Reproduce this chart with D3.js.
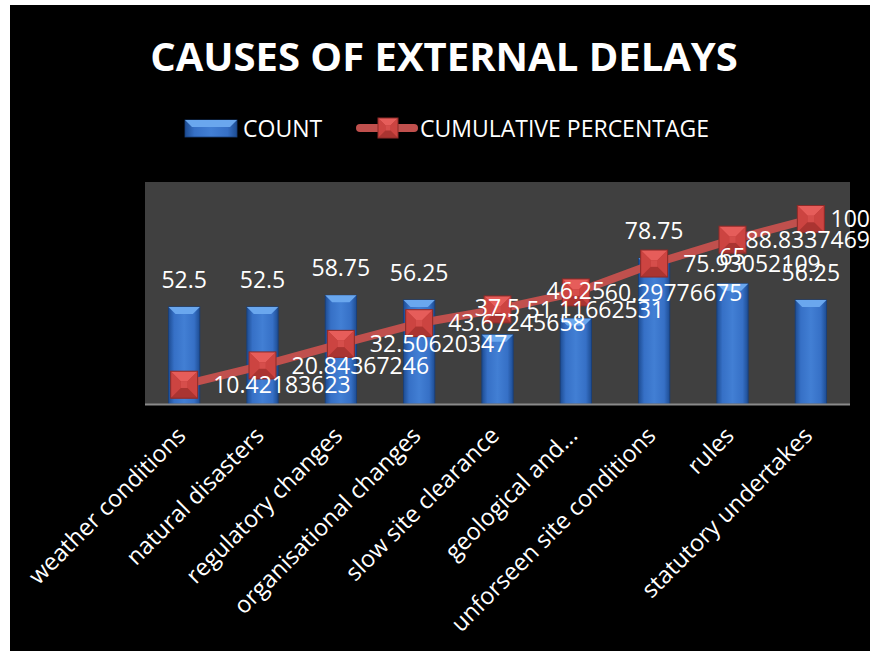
<!DOCTYPE html>
<html>
<head>
<meta charset="utf-8">
<script src="https://cdn.jsdelivr.net/npm/d3@7"></script>
<style>
  body { margin: 0; background: #fff; }
  svg text { font-family: "Open Sans", sans-serif; fill: #fff; }
</style>
</head>
<body>
<svg class="chart"></svg>
<script>
var categories = ["weather conditions", "natural disasters", "regulatory changes", "organisational changes",
                  "slow site clearance", "geological and...", "unforseen site conditions", "rules", "statutory undertakes"];
var counts = [52.5, 52.5, 58.75, 56.25, 37.5, 46.25, 78.75, 65, 56.25];
var cumulative = [10.42183623, 20.84367246, 32.50620347, 43.67245658, 51.11662531, 60.29776675, 75.93052109, 88.8337469, 100];
var legendNames = ["COUNT", "CUMULATIVE PERCENTAGE"];

var width = 870, height = 651;
var plot = {left: 145, right: 850, top: 182, bottom: 404};

var svg = d3.select(".chart").attr("width", width).attr("height", height);

// gradients
var defs = svg.append("defs");
var gb = defs.append("linearGradient").attr("id", "barGrad").attr("x1", 0).attr("x2", 1).attr("y1", 0).attr("y2", 0);
gb.append("stop").attr("offset", "0%").attr("stop-color", "#1d4c92");
gb.append("stop").attr("offset", "18%").attr("stop-color", "#3670c6");
gb.append("stop").attr("offset", "50%").attr("stop-color", "#427fd4");
gb.append("stop").attr("offset", "82%").attr("stop-color", "#3670c6");
gb.append("stop").attr("offset", "100%").attr("stop-color", "#1d4c92");

// black chart area
svg.append("rect").attr("x", 10).attr("y", 5).attr("width", width - 10).attr("height", height - 5).attr("fill", "#000");

svg.append("rect")
   .attr("x", plot.left).attr("y", plot.top)
   .attr("width", plot.right - plot.left).attr("height", plot.bottom - plot.top)
   .attr("fill", "#404040");

var x = d3.scaleBand().domain(categories).range([plot.left, plot.right]);
var y = d3.scaleLinear().domain([0, 120]).range([plot.bottom, plot.top]);
var bw = x.bandwidth() * 0.4;

// title
svg.append("text")
   .attr("x", 444).attr("y", 71)
   .attr("text-anchor", "middle")
   .style("font-size", "40px").style("font-weight", "bold")
   .text("CAUSES OF EXTERNAL DELAYS");

function drawBar(g, x0, y0, w, h) {
  g.append("rect").attr("x", x0).attr("y", y0).attr("width", w).attr("height", h)
   .attr("fill", "url(#barGrad)").attr("stroke", "#173f7a").attr("stroke-width", 0.8);
  var b = Math.min(7, h / 2);
  g.append("path")
   .attr("d", "M" + x0 + "," + y0 + "L" + (x0 + w) + "," + y0 + "L" + (x0 + w - b) + "," + (y0 + b) + "L" + (x0 + b) + "," + (y0 + b) + "Z")
   .attr("fill", "#6aa7ee");
}

function drawMarker(g, cx, cy, s) {
  var h = s / 2, t = s * 0.12;
  g.append("rect").attr("x", cx - h).attr("y", cy - h).attr("width", s).attr("height", s).attr("fill", "#bd3b38");
  var pts = function(a) { return a.map(function(p) { return p.join(","); }).join(" "); };
  g.append("polygon").attr("points", pts([[cx - h, cy - h], [cx + h, cy - h], [cx + t, cy - t], [cx - t, cy - t]])).attr("fill", "#e65d5a");
  g.append("polygon").attr("points", pts([[cx - h, cy - h], [cx - t, cy - t], [cx - t, cy + t], [cx - h, cy + h]])).attr("fill", "#cc4441");
  g.append("polygon").attr("points", pts([[cx + h, cy - h], [cx + h, cy + h], [cx + t, cy + t], [cx + t, cy - t]])).attr("fill", "#cc4441");
  g.append("polygon").attr("points", pts([[cx - h, cy + h], [cx + h, cy + h], [cx + t, cy + t], [cx - t, cy + t]])).attr("fill", "#aa3431");
  g.append("rect").attr("x", cx - t).attr("y", cy - t).attr("width", 2 * t).attr("height", 2 * t).attr("fill", "#d64e4b");
  g.append("rect").attr("x", cx - h).attr("y", cy - h).attr("width", s).attr("height", s)
   .attr("fill", "none").attr("stroke", "#8c2a28").attr("stroke-width", 1);
}

// legend
var lg = svg.append("g");
drawBar(lg, 185, 120, 52, 17);
lg.append("text").attr("x", 243).attr("y", 137).style("font-size", "23px").text(legendNames[0]);
lg.append("line").attr("x1", 360).attr("x2", 414).attr("y1", 128).attr("y2", 128)
  .attr("stroke", "#c0504d").attr("stroke-width", 8).attr("stroke-linecap", "round");
drawMarker(lg, 388, 128, 20);
lg.append("text").attr("x", 420).attr("y", 137).style("font-size", "23px").text(legendNames[1]);

// bars
var bars = svg.append("g");
categories.forEach(function(c, i) {
  var x0 = x(c) + (x.bandwidth() - bw) / 2;
  drawBar(bars, x0, y(counts[i]), bw, y(0) - y(counts[i]));
});

// axis line
svg.append("line").attr("x1", plot.left).attr("x2", plot.right)
   .attr("y1", plot.bottom + 0.5).attr("y2", plot.bottom + 0.5)
   .attr("stroke", "#8a8a8a").attr("stroke-width", 2);

// cumulative line
var line = d3.line()
  .x(function(d, i) { return x(categories[i]) + x.bandwidth() / 2; })
  .y(function(d) { return y(d); });
svg.append("path").datum(cumulative).attr("d", line)
   .attr("fill", "none").attr("stroke", "#c0504d").attr("stroke-width", 8);

var markers = svg.append("g");
cumulative.forEach(function(v, i) {
  drawMarker(markers, x(categories[i]) + x.bandwidth() / 2, y(v), 27);
});

// category labels
svg.append("g").selectAll("text").data(categories).enter().append("text")
   .attr("text-anchor", "end")
   .attr("transform", function(d) {
     return "translate(" + (x(d) + x.bandwidth() / 2 + 3) + "," + (plot.bottom + 33) + ") rotate(-45)";
   })
   .style("font-size", "23.5px")
   .text(function(d) { return d; });

// data labels
svg.append("g").selectAll("text").data(counts).enter().append("text")
   .attr("x", function(d, i) { return x(categories[i]) + x.bandwidth() / 2; })
   .attr("y", function(d) { return y(d) - 19; })
   .attr("text-anchor", "middle")
   .style("font-size", "23px")
   .text(function(d) { return d; });

svg.append("g").selectAll("text").data(cumulative).enter().append("text")
   .attr("x", function(d, i) { return x(categories[i]) + x.bandwidth() / 2 + 29; })
   .attr("y", function(d) { return y(d); })
   .attr("dy", "0.36em")
   .style("font-size", "23px")
   .text(function(d) { return d; })
   .each(function() {
     var t = d3.select(this);
     var w = this.getComputedTextLength();
     if (+t.attr("x") + w > width) t.attr("x", width - w);
   });
</script>
</body>
</html>
